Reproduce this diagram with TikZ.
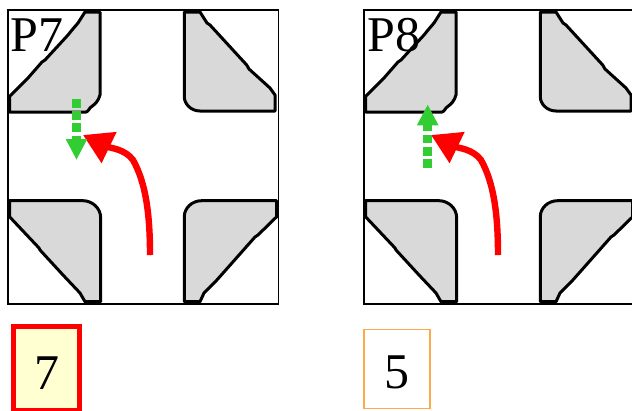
\documentclass[tikz,border=0pt]{standalone}
\usepackage{fontspec}
\setmainfont{Liberation Serif}
\usetikzlibrary{arrows.meta}
\definecolor{islandgray}{HTML}{D9D9D9}
\definecolor{goodgreen}{HTML}{32CD32}
\definecolor{softorange}{HTML}{FFA94D}
\definecolor{softyellow}{HTML}{FFFFD2}
\tikzset{
  frame/.style={draw=black,line width=1.5pt,minimum width=270.5pt,minimum height=294pt,inner sep=0pt,outer sep=0pt,anchor=north west},
  island/.style={draw=black,fill=islandgray,line width=3pt,line join=round},
  panellabel/.style={font=\fontsize{50}{50}\selectfont,anchor=base west,inner sep=0pt,outer sep=0pt},
  scorelabel/.style={font=\fontsize{50}{50}\selectfont,anchor=base,inner sep=0pt,outer sep=0pt},
  turnarrow/.style={draw=red,line width=6.4pt,-{Triangle[length=29pt,width=33pt,fill=red]}},
  walkarrow/.style={draw=goodgreen,line width=8.6pt,dash pattern=on 8.6pt off 3.6pt,-{Triangle[length=21pt,width=20pt,fill=goodgreen]}},
}
\newcommand{\crossroad}{%
  \draw[island] (85,12) -- (100,12) -- (100,95) -- (98.5,99) .. controls (96,104) and (92,106) .. (90,108) .. controls (88,111) and (87,112) .. (86,112) -- (9.5,112) -- (9.5,96.5) -- (28,78) -- (42,62) -- (45,60) -- (68,35) -- (72,30) -- (78,23) -- cycle;
  \draw[island] (9.5,200.7) -- (83,200.7) .. controls (92,200.7) and (100.6,208) .. (100.6,217.3) -- (100.6,301.7) -- (85,301.7) -- (80,293) -- (63,275) -- (40,250) -- (39,248) -- (9.5,216.7) -- cycle;
  \draw[island] (184.3,12) -- (200,12) -- (207,23) -- (210,25) -- (246.7,65) -- (249,69) -- (270,88) -- (275,95) -- (275,111) -- (200,111) .. controls (191,111) and (184.3,104) .. (184.3,96.7) -- cycle;
  \draw[island] (201.7,200.7) -- (276.7,200.7) -- (276.7,216.7) -- (258,235) -- (255,237) -- (216,281) -- (206,291) -- (204,293) -- (200,301.7) -- (184.3,301.7) -- (184.3,216.7) .. controls (184.3,208) and (192,200.7) .. (201.7,200.7) -- cycle;
}
\begin{document}
\begin{tikzpicture}[x=1pt,y=-1pt]
\useasboundingbox (0,0) rectangle (632,410);
\clip (0,0) rectangle (632,410);
\node[frame] (panelA) at (8,10) {};
\node[frame] (panelB) at (364,10) {};
\crossroad
\begin{scope}[xshift=356pt]\crossroad\end{scope}
\node[panellabel] (labelA) at (10.5,51.7) {P7};
\node[panellabel] (labelB) at (367.5,51.7) {P8};
\coordinate (redAstart) at (150,255);
\coordinate (redAmid) at (133,160);
\coordinate (redAend) at (83,135);
\draw[turnarrow] (redAstart) .. controls (150,215) and (146,183) .. (redAmid) .. controls (125,149) and (110,148) .. (redAend);
\coordinate (redBstart) at (498,255);
\coordinate (redBmid) at (481,160);
\coordinate (redBend) at (431,135);
\draw[turnarrow] (redBstart) .. controls (498,215) and (494,183) .. (redBmid) .. controls (473,149) and (458,148) .. (redBend);
\coordinate (walkAstart) at (76.5,99);
\coordinate (walkAend) at (76.5,160);
\draw[walkarrow] (walkAstart) -- (walkAend);
\coordinate (walkBstart) at (427.7,167.7);
\coordinate (walkBend) at (427.7,104.3);
\draw[walkarrow] (walkBstart) -- (walkBend);
\node[draw=red,fill=softyellow,line width=5pt,minimum width=66pt,minimum height=84pt,inner sep=0pt,outer sep=0pt,anchor=north west] (scoreA) at (13.5,326.8) {};
\node[scorelabel] (digitA) at (47,389) {7};
\node[draw=softorange,fill=white,line width=1.2pt,minimum width=66pt,minimum height=78.6pt,inner sep=0pt,outer sep=0pt,anchor=north west] (scoreB) at (364,329.7) {};
\node[scorelabel] (digitB) at (397,388) {5};
\end{tikzpicture}
\end{document}
